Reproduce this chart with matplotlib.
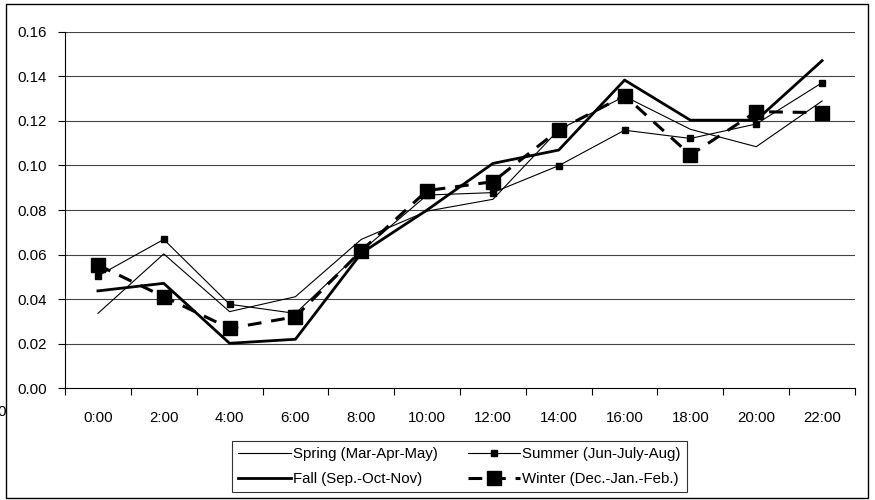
import matplotlib
matplotlib.use("Agg")
import matplotlib.pyplot as plt
from matplotlib.patches import Rectangle
import numpy as np

hours = ["0:00", "2:00", "4:00", "6:00", "8:00", "10:00", "12:00",
         "14:00", "16:00", "18:00", "20:00", "22:00"]
spring = [0.0336, 0.0603, 0.0344, 0.0411, 0.0668, 0.0795, 0.0848,
          0.1160, 0.1310, 0.1162, 0.1084, 0.1289]
summer = [0.0504, 0.0668, 0.0377, 0.0336, 0.0615, 0.0867, 0.0878,
          0.0999, 0.1158, 0.1121, 0.1186, 0.1371]
fall = [0.0437, 0.0471, 0.0202, 0.0220, 0.0606, 0.0800, 0.1009,
        0.1069, 0.1383, 0.1203, 0.1203, 0.1470]
winter = [0.0553, 0.0411, 0.0269, 0.0321, 0.0617, 0.0887, 0.0927,
          0.1159, 0.1313, 0.1047, 0.1241, 0.1237]
yticks = [0.00, 0.02, 0.04, 0.06, 0.08, 0.10, 0.12, 0.14, 0.16]

FS = 10.8
plt.rcParams['font.family'] = ['Liberation Sans', 'DejaVu Sans']
fig = plt.figure(figsize=(8.75, 5.0), dpi=100)
W, H = 875, 500
ax = fig.add_axes([65 / W, 1 - 388.3 / H, (855 - 65) / W, (388.3 - 31.7) / H])

x = np.arange(len(hours))
ax.plot(x, spring, color='black', lw=0.8, label='Spring (Mar-Apr-May)')
ax.plot(x, summer, color='black', lw=0.8, marker='s', ms=5,
        label='Summer (Jun-July-Aug)')
ax.plot(x, fall, color='black', lw=2.0, label='Fall (Sep.-Oct-Nov)')
ax.plot(x, winter, color='black', lw=2.2, ls=(0, (4.5, 3.2)), marker='s',
        ms=10, label='Winter (Dec.-Jan.-Feb.)')

ax.set_xlim(-0.5, len(hours) - 0.5)
ax.set_ylim(0, 0.16)
ax.set_yticks(yticks)
ax.set_yticklabels([f"{v:.2f}" for v in yticks], fontsize=FS)
ax.set_xticks(x)
ax.set_xticklabels(hours, fontsize=FS)
ax.set_xticks(np.arange(-0.5, len(hours)), minor=True)
ax.tick_params(axis='x', which='major', length=0, pad=16)
ax.tick_params(axis='x', which='minor', length=5, direction='out', width=0.8)
ax.tick_params(axis='y', length=5, direction='out', width=0.8, pad=8)
for s in ['top', 'right']:
    ax.spines[s].set_visible(False)
for s in ['left', 'bottom']:
    ax.spines[s].set_linewidth(0.8)
for v in yticks[1:]:
    ax.axhline(v, color='#444444', lw=0.8, zorder=0)

h, l = ax.get_legend_handles_labels()
order = [0, 2, 1, 3]
leg = fig.legend([h[i] for i in order], [l[i] for i in order], ncol=2,
                 loc='center', bbox_to_anchor=((229 + 690) / 2 / W, 1 - (440 + 493) / 2 / H),
                 fontsize=FS, frameon=True, fancybox=False, edgecolor='black',
                 handlelength=3.5, columnspacing=2.0, handletextpad=0.15,
                 borderpad=0.4, labelspacing=0.7, borderaxespad=0)
leg.get_frame().set_linewidth(0.8)

# outer frame
fig.patches.append(Rectangle((6 / W, 1 - 498 / H), (868 - 6) / W, (498 - 4) / H,
                             transform=fig.transFigure, fill=False,
                             edgecolor='black', lw=1.0))
fig.text(2 / W, 1 - 412 / H, "0", fontsize=FS, ha='center', va='center')

fig.savefig("out.png", dpi=100)
